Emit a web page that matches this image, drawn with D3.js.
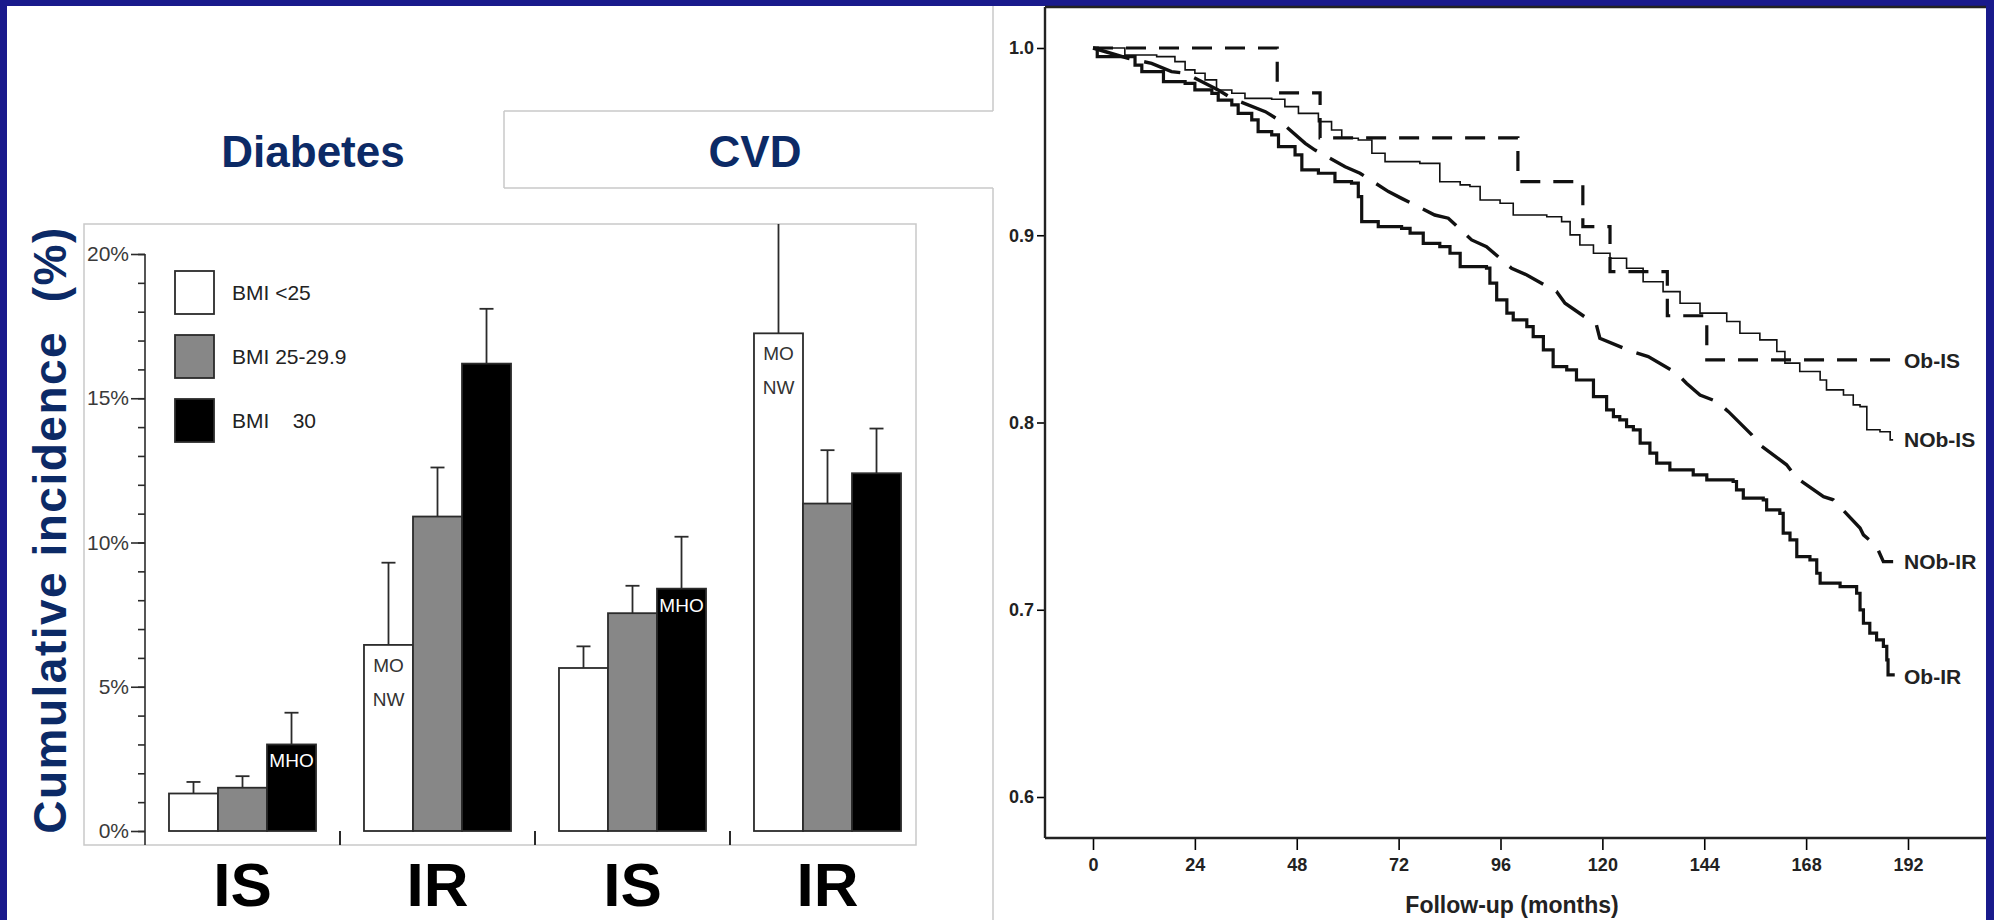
<!doctype html>
<html lang="en">
<head>
  <meta charset="utf-8">
  <title>Diabetes / CVD incidence and survival by obesity and insulin resistance</title>
  <style>
    body { margin:0; background:#191a8c; }
    svg { display:block; font-family:"Liberation Sans", Arial, sans-serif; }
    .pre { white-space:pre; }
  </style>
</head>
<body>
<svg id="slide" width="1994" height="920"></svg>

<script src="https://cdnjs.cloudflare.com/ajax/libs/d3/7.8.5/d3.min.js"></script>
<script>
// ---- bar panel: cumulative incidence (%) ----
var panelTitles = ["Diabetes", "CVD"];
var groupKeys = ["dm-IS", "dm-IR", "cvd-IS", "cvd-IR"];
var groupLabels = ["IS", "IR", "IS", "IR"];
var bmiClasses = ["BMI <25", "BMI 25-29.9", "BMI    30"];
var bmiFills = ["#ffffff", "#878787", "#000000"];
var bmiUnder25 = [1.3, 6.45, 5.65, 17.25];
var bmi25to30 = [1.5, 10.9, 7.55, 11.35];
var bmiOver30 = [3.0, 16.2, 8.4, 12.4];
var errUnder25 = [1.7, 9.3, 6.4, 21.5];
var err25to30 = [1.9, 12.6, 8.5, 13.2];
var errOver30 = [4.1, 18.1, 10.2, 13.95];
var pctTicks = [0, 5, 10, 15, 20];
var barNotes = [
  { group: 1, cls: 0, lines: ["MO", "NW"] },
  { group: 3, cls: 0, lines: ["MO", "NW"] },
  { group: 0, cls: 2, lines: ["MHO"] },
  { group: 2, cls: 2, lines: ["MHO"] }
];

// ---- survival panel ----
var monthTicks = [0, 24, 48, 72, 96, 120, 144, 168, 192];
var survTicks = [0.6, 0.7, 0.8, 0.9, 1.0];
var curveNames = ["Ob-IS", "NOb-IS", "NOb-IR", "Ob-IR"];
var obIS = [[0,1.0],[43.4,0.976],[53.5,0.952],[100.1,0.9286],[115.4,0.9046],[121.8,0.8806],
  [135.3,0.857],[144.6,0.8334],[188.5,0.8334]];
var nobIS = [[0,1.0],[7.5,0.9963],[15,0.9954],[19.3,0.9927],[21.7,0.9883],[24,0.9865],[26.4,0.983],
  [29.1,0.9776],[32.7,0.9758],[35.8,0.9731],[42.1,0.9726],[45.2,0.9687],[48.4,0.9651],[53.1,0.9607],
  [56.2,0.9562],[58.6,0.9518],[62.5,0.9509],[65.7,0.9438],[68.8,0.9393],[77.0,0.9384],[81.7,0.9286],
  [86.5,0.9269],[88.8,0.926],[91.2,0.9188],[95.9,0.9171],[99.0,0.9108],[106.9,0.9099],[110.4,0.9073],
  [112.4,0.9002],[114.7,0.8948],[117.9,0.8904],[121.8,0.8877],[125.7,0.8824],[129.6,0.8752],
  [134.3,0.8699],[138.3,0.8637],[143.0,0.8584],[149.3,0.8539],[152.4,0.8477],[157.1,0.8441],
  [161.1,0.8379],[163.0,0.8317],[166.5,0.8272],[171.3,0.8227],[172.8,0.8174],[176.8,0.8147],
  [179.1,0.8094],[180.7,0.8085],[182.3,0.7961],[185.4,0.7951],[187.8,0.7907],[188.5,0.7907]];
var nobIR = [[0,1.0],[3,0.998],[8.3,0.9945],[13.8,0.9918],[18.5,0.9874],[21.7,0.9865],[29.5,0.9776],
  [32.7,0.9731],[40.6,0.966],[43.7,0.9616],[50.0,0.9491],[52.3,0.9455],[59.4,0.9366],[62.9,0.9331],
  [69.6,0.9233],[72.7,0.9197],[80.5,0.9108],[83.7,0.9091],[89.2,0.8975],[92.7,0.8939],[98.6,0.8824],
  [102.2,0.8788],[109.2,0.8699],[111.2,0.8637],[118.6,0.8521],[119.4,0.845],[126.9,0.8379],
  [130.8,0.8352],[137.5,0.8263],[139.8,0.821],[143.0,0.8147],[146.9,0.8112],[149.7,0.8058],
  [155.2,0.7934],[157.1,0.788],[163.4,0.7774],[165.8,0.7703],[172.1,0.7604],[174.4,0.7587],
  [180.7,0.7436],[181.5,0.74],[184.6,0.7338],[186.2,0.7257],[188.5,0.7257]];
var obIR = [[0,1.0],[1,0.9954],[9.9,0.9909],[11.5,0.9874],[16.6,0.982],[21.7,0.9811],[24.0,0.9776],
  [28.0,0.9758],[29.5,0.9722],[32.7,0.9696],[34.2,0.9651],[37.4,0.9616],[38.9,0.9553],[42.1,0.9536],
  [43.7,0.9473],[47.6,0.9429],[49.2,0.9349],[53.1,0.9331],[57.0,0.9286],[60.9,0.9278],[62.5,0.9206],
  [63.3,0.9073],[67.2,0.9046],[72.7,0.9037],[74.7,0.9011],[77.8,0.8957],[81.7,0.8939],[84.1,0.8904],
  [86.5,0.8832],[92.7,0.8824],[93.5,0.8744],[95.1,0.8655],[97.5,0.8584],[99.0,0.8548],[102.2,0.8512],
  [103.7,0.8459],[106.1,0.8388],[108.4,0.8298],[111.6,0.8281],[113.9,0.8227],[117.9,0.8138],
  [121.0,0.8067],[122.6,0.8031],[124.1,0.8014],[125.7,0.7978],[127.3,0.7961],[128.9,0.789],
  [131.2,0.7836],[132.8,0.7783],[135.9,0.7747],[141.4,0.772],[144.6,0.7694],[150.8,0.7685],
  [151.6,0.764],[153.2,0.7596],[157.9,0.7587],[158.7,0.7533],[161.8,0.7515],[162.6,0.7409],
  [164.2,0.7373],[165.8,0.7284],[168.9,0.7266],[170.5,0.7195],[171.3,0.7142],[176.0,0.7124],
  [179.9,0.7088],[180.7,0.6999],[181.5,0.6928],[183.0,0.6875],[184.6,0.6839],[186.2,0.6804],
  [187.0,0.6732],[187.3,0.6652],[188.5,0.6643]];

var navyText = "#0c2a66", ink = "#2b2b2b", frameGray = "#c9c9c9";

var svg = d3.select("#slide");

// slide background and outlines
svg.append("rect").attr("x", 0).attr("y", 0).attr("width", 1994).attr("height", 920).attr("fill", "#191a8c");
svg.append("rect").attr("x", 7).attr("y", 6).attr("width", 1979).attr("height", 914).attr("fill", "#fff");

var outline = [[[993,6],[993,111]], [[504,111],[993,111]], [[504,111],[504,188]],
               [[504,188],[993,188]], [[993,188],[993,920]]];
svg.append("g").selectAll("line").data(outline).join("line")
  .attr("x1", d => d[0][0]).attr("y1", d => d[0][1])
  .attr("x2", d => d[1][0]).attr("y2", d => d[1][1])
  .attr("stroke", frameGray).attr("stroke-width", 1.5);

svg.append("g").selectAll("text").data(panelTitles).join("text")
  .attr("x", (d, i) => i == 0 ? 313 : 755).attr("y", 167)
  .attr("text-anchor", "middle").attr("font-size", 44).attr("font-weight", "bold")
  .attr("fill", navyText).text(d => d);

// ================= bar chart =================
function drawBars() {
  var frame = { x: 84, y: 224, w: 832, h: 621 };
  svg.append("rect").attr("x", frame.x).attr("y", frame.y).attr("width", frame.w).attr("height", frame.h)
    .attr("fill", "#fff").attr("stroke", frameGray).attr("stroke-width", 1.5);
  svg.append("clipPath").attr("id", "barclip").append("rect")
    .attr("x", frame.x).attr("y", frame.y).attr("width", frame.w).attr("height", frame.h);

  var y = d3.scaleLinear().domain([0, 20]).range([831, 254]);
  var xg = d3.scaleBand().domain(groupKeys).range([145, 925]).paddingInner(0.246).paddingOuter(0.123);
  var xc = d3.scaleBand().domain([0, 1, 2]).range([0, xg.bandwidth()]);

  // axis
  var ax = svg.append("g").attr("transform", "translate(145,0)");
  ax.append("g").call(d3.axisLeft(y).tickValues(d3.range(0, 21)).tickSize(7).tickFormat(""))
    .call(g => g.select(".domain").remove());
  ax.append("g").call(d3.axisLeft(y).tickValues(pctTicks).tickSize(14).tickFormat(d => d + "%"))
    .call(g => g.select(".domain").remove())
    .call(g => g.selectAll("text").attr("x", -16).attr("font-size", 21).attr("fill", "#3a3a3a")
      .attr("font-family", "Liberation Sans, Arial, sans-serif"));
  ax.selectAll(".tick line").attr("stroke", ink).attr("stroke-width", 1.5);
  ax.append("line").attr("x1", 0).attr("x2", 0).attr("y1", y(20)).attr("y2", frame.y + frame.h)
    .attr("stroke", ink).attr("stroke-width", 1.6);

  // group separators
  var gap = xg.step() - xg.bandwidth();
  svg.append("g").selectAll("line").data(groupKeys.slice(1)).join("line")
    .attr("x1", d => xg(d) - gap / 2).attr("x2", d => xg(d) - gap / 2)
    .attr("y1", y(0)).attr("y2", frame.y + frame.h)
    .attr("stroke", ink).attr("stroke-width", 2);

  var series = [bmiUnder25, bmi25to30, bmiOver30];
  var errs = [errUnder25, err25to30, errOver30];
  var cells = [];
  groupKeys.forEach(function (g, i) {
    series.forEach(function (s, k) {
      cells.push({ g: g, i: i, k: k, v: s[i], e: errs[k][i] });
    });
  });

  var plot = svg.append("g").attr("clip-path", "url(#barclip)");
  // error bars first, bars drawn over them
  var eb = plot.append("g").selectAll("g").data(cells).join("g")
    .attr("transform", d => "translate(" + (xg(d.g) + xc(d.k) + xc.bandwidth() / 2) + ",0)");
  eb.append("line").attr("y1", d => y(d.v)).attr("y2", d => y(d.e))
    .attr("stroke", ink).attr("stroke-width", 1.8);
  eb.append("line").attr("x1", -7).attr("x2", 7).attr("y1", d => y(d.e)).attr("y2", d => y(d.e))
    .attr("stroke", ink).attr("stroke-width", 1.8);

  plot.append("g").selectAll("rect").data(cells).join("rect")
    .attr("x", d => xg(d.g) + xc(d.k)).attr("width", xc.bandwidth())
    .attr("y", d => y(d.v)).attr("height", d => y(0) - y(d.v))
    .attr("fill", d => bmiFills[d.k]).attr("stroke", ink).attr("stroke-width", 1.8);

  // notes inside bars
  var notes = svg.append("g").selectAll("text").data(barNotes).join("text")
    .attr("text-anchor", "middle").attr("font-size", 19)
    .attr("fill", d => d.cls == 2 ? "#fff" : "#333");
  notes.each(function (d) {
    var vals = [bmiUnder25, bmi25to30, bmiOver30][d.cls];
    var cx = xg(groupKeys[d.group]) + xc(d.cls) + xc.bandwidth() / 2;
    var top = y(vals[d.group]);
    d3.select(this).selectAll("tspan").data(d.lines).join("tspan")
      .attr("x", cx).attr("y", (t, j) => top + (d.lines.length > 1 ? 27 + j * 34 : 23))
      .text(t => t);
  });

  // group labels
  svg.append("g").selectAll("text").data(groupKeys).join("text")
    .attr("x", d => xg(d) + xg.bandwidth() / 2).attr("y", 906)
    .attr("text-anchor", "middle").attr("font-size", 62).attr("font-weight", "bold")
    .attr("fill", "#000").text((d, i) => groupLabels[i]);

  // legend
  var lg = svg.append("g").selectAll("g").data(bmiClasses).join("g")
    .attr("transform", (d, i) => "translate(175," + (271 + i * 64) + ")");
  lg.append("rect").attr("width", 39).attr("height", 43)
    .attr("fill", (d, i) => bmiFills[i]).attr("stroke", ink).attr("stroke-width", 1.8);
  lg.append("text").attr("class", "pre").attr("x", 57).attr("y", 29)
    .attr("font-size", 21).attr("fill", "#222").text(d => d);

  // y label
  svg.append("text").attr("transform", "translate(66,530) rotate(-90)")
    .attr("text-anchor", "middle").attr("font-size", 46).attr("font-weight", "bold")
    .attr("letter-spacing", 1.5).attr("class", "pre")
    .attr("fill", navyText).text("Cumulative incidence  (%)");
}

// ================= survival curves =================
function drawSurvival() {
  var x = d3.scaleLinear().domain([0, 192]).range([1093, 1908]);
  var y = d3.scaleLinear().domain([0.6, 1.0]).range([797, 48]);
  var left = 1045, top = 7, bottom = 838, right = 1986;

  svg.append("rect").attr("x", 995).attr("y", 6).attr("width", right - 995).attr("height", 914).attr("fill", "#fff");

  var yax = svg.append("g").attr("transform", "translate(" + left + ",0)")
    .call(d3.axisLeft(y).tickValues(survTicks).tickSize(8).tickFormat(d3.format(".1f")))
    .call(g => g.select(".domain").remove());
  yax.selectAll("text").attr("x", -11).attr("font-size", 18).attr("font-weight", "bold").attr("fill", "#222")
    .attr("font-family", "Liberation Sans, Arial, sans-serif");

  var xax = svg.append("g").attr("transform", "translate(0," + bottom + ")")
    .call(d3.axisBottom(x).tickValues(monthTicks).tickSize(12))
    .call(g => g.select(".domain").remove());
  xax.selectAll("text").attr("y", 20).attr("font-size", 18).attr("font-weight", "bold").attr("fill", "#222")
    .attr("font-family", "Liberation Sans, Arial, sans-serif");
  svg.selectAll(".tick line").attr("stroke-width", 1.6);

  var frameLines = [[left, top, left, bottom], [left, top, right, top], [left, bottom, right, bottom]];
  svg.append("g").selectAll("line").data(frameLines).join("line")
    .attr("x1", d => d[0]).attr("y1", d => d[1]).attr("x2", d => d[2]).attr("y2", d => d[3])
    .attr("stroke", "#222").attr("stroke-width", 2.4);

  svg.append("text").attr("x", 1512).attr("y", 913).attr("text-anchor", "middle")
    .attr("font-size", 23).attr("font-weight", "bold").attr("fill", "#222").text("Follow-up (months)");

  var stepLine = d3.line().x(d => x(d[0])).y(d => y(d[1])).curve(d3.curveStepAfter);
  // NOb-IR points were read at dash ends, so join them straight
  var dashLine = d3.line().x(d => x(d[0])).y(d => y(d[1]));
  var curves = [
    { name: curveNames[0], pts: obIS, w: 3.2, dash: "20,13", gen: stepLine },
    { name: curveNames[1], pts: nobIS, w: 1.6, dash: null, gen: stepLine },
    { name: curveNames[2], pts: nobIR, w: 3.4, dash: "38,15", gen: dashLine },
    { name: curveNames[3], pts: obIR, w: 3.2, dash: null, gen: stepLine }
  ];
  svg.append("g").selectAll("path").data(curves).join("path")
    .attr("d", d => d.gen(d.pts)).attr("fill", "none").attr("stroke", "#111")
    .attr("stroke-width", d => d.w).attr("stroke-dasharray", d => d.dash);

  svg.append("g").selectAll("text").data(curves).join("text")
    .attr("x", 1904).attr("y", d => y(d.pts[d.pts.length - 1][1])).attr("dy", "0.36em")
    .attr("font-size", 21).attr("font-weight", "bold").attr("fill", "#222").text(d => d.name);
}

drawBars();
drawSurvival();
</script>
</body>
</html>
